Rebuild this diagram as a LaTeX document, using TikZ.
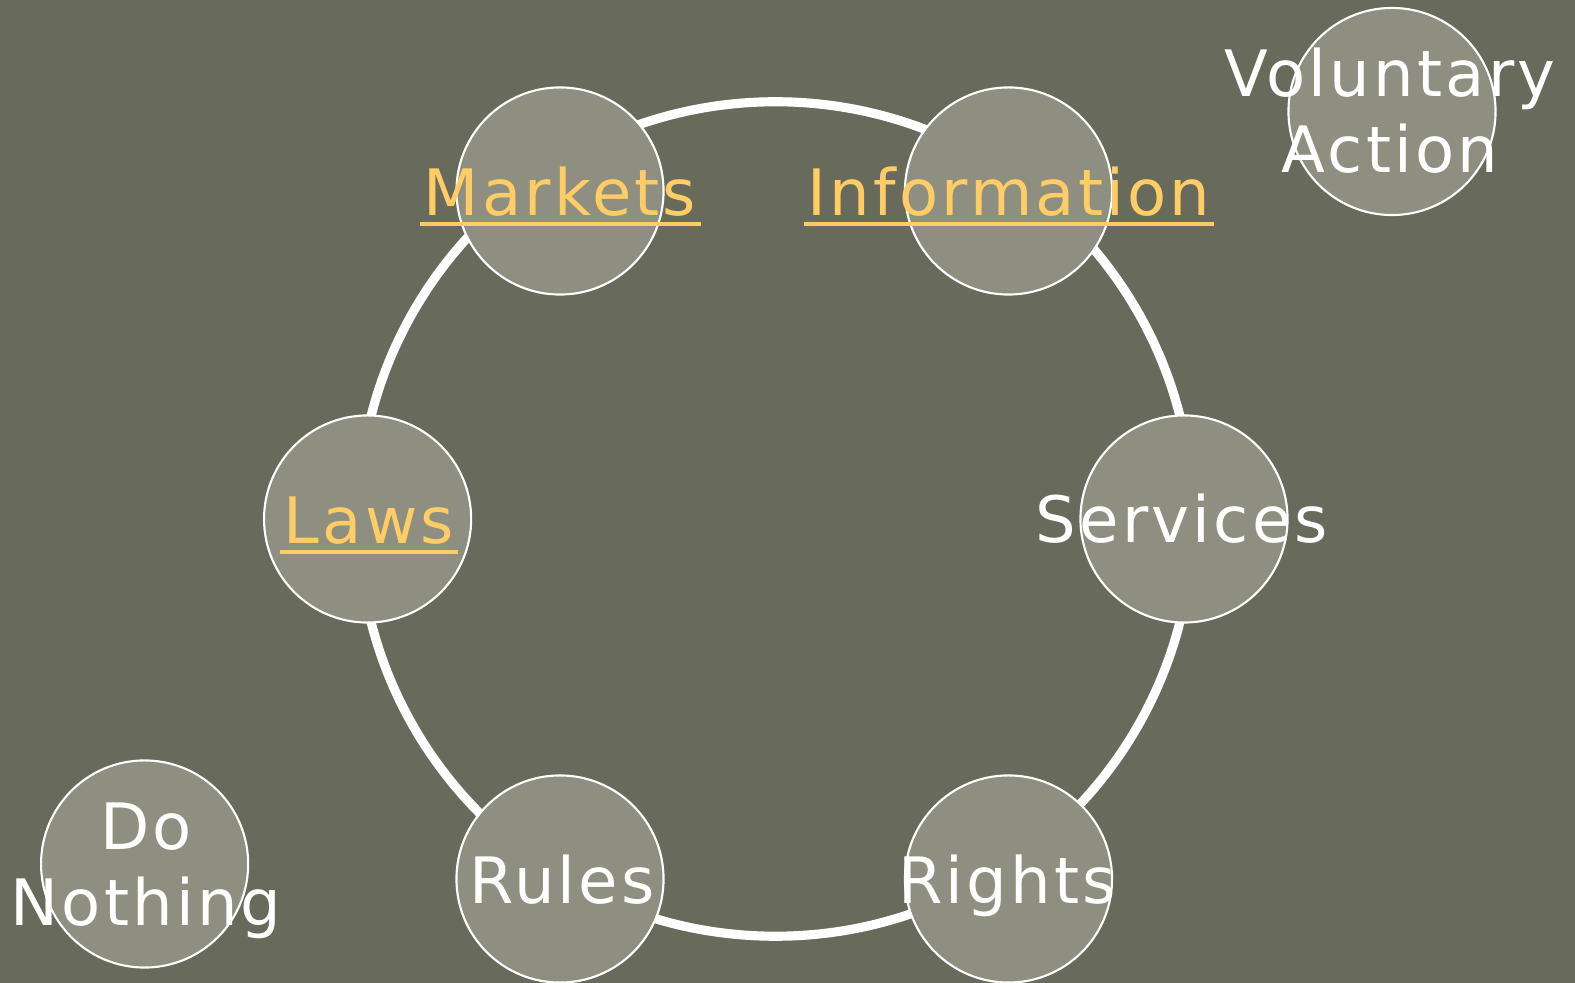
\documentclass[tikz,border=0pt]{standalone}
\usepackage{fontspec}
\setmainfont{DejaVu Sans}[LetterSpace=5]
\definecolor{bgc}{HTML}{686A5C}
\definecolor{discfill}{HTML}{8E8F80}
\definecolor{linkc}{HTML}{FFCC66}
\begin{document}
\begin{tikzpicture}[x=0.01cm,y=-0.01cm,
  disc/.style={circle,draw=white,line width=0.6pt,fill=discfill,inner sep=0pt},
  lbl/.style={text=white,font=\fontsize{18.2pt}{21.8pt}\selectfont,inner sep=0pt,align=center},
  lnk/.style={lbl,text=linkc,inner xsep=1pt},
  uline/.style={draw=linkc,line width=0.9pt}]
\fill[bgc] (0,0) rectangle (1575,983);
\useasboundingbox (0,0) rectangle (1575,983);
% ring
\node[circle,draw=white,line width=2.6pt,minimum size=8.34cm,inner sep=0pt] (ring) at (775.5,519) {};
% discs
\foreach \n/\x/\y in {mk/560/191, inf/1008.5/191, lw/367.6/519, sv/1184/519, rl/560/879, rg/1008.5/879, dn/144.6/864, va/1392/111.5}
  \node[disc,minimum size=2.07cm] (\n) at (\x,\y) {};
% labels
\node[lnk,anchor=base] (tmk) at (560,216) {Markets};
\node[lnk,anchor=base] (tinf) at (1009,216) {Information};
\node[lnk,anchor=base] (tlw) at (369,544) {Laws};
\draw[uline] ([yshift=-0.08cm]tmk.base west) -- ([yshift=-0.08cm]tmk.base east);
\draw[uline] ([yshift=-0.08cm]tinf.base west) -- ([yshift=-0.08cm]tinf.base east);
\draw[uline] ([yshift=-0.08cm]tlw.base west) -- ([yshift=-0.08cm]tlw.base east);
\node[lbl,anchor=base] (tsv) at (1182,543) {Services};
\node[lbl,anchor=base] (trl) at (562,904) {Rules};
\node[lbl,anchor=base] (trg) at (1007,904) {Rights};
\node[lbl,anchor=base] (tdn) at (146,926) {Do\\Nothing};
\node[lbl,anchor=base] (tva) at (1390,173) {Voluntary\\Action};
\end{tikzpicture}
\end{document}
